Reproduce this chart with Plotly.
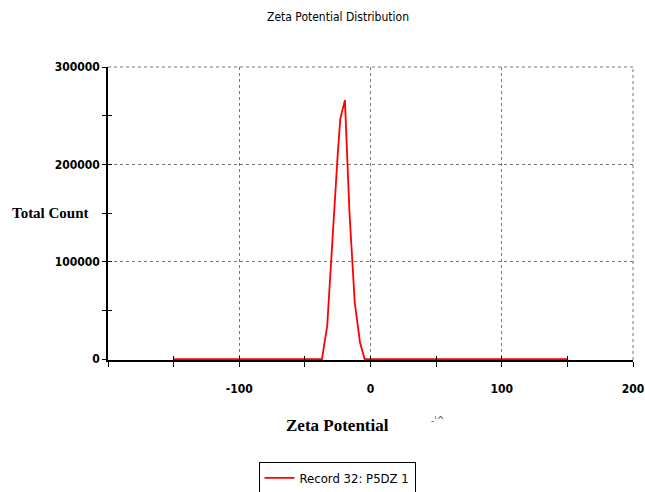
import plotly.graph_objects as go

zeta_mv = [-150, -37, -33, -29, -25, -23, -19.5, -16, -12, -8, -4.5, 150]
total_count = [0, 0, 34000, 125000, 210000, 247000, 266000, 150000, 58000, 17000, 0, 0]
x_ticks = [-100, 0, 100, 200]
x_labels = ["-100", "0", "100", "200"]
y_ticks = [0, 100000, 200000, 300000]
y_labels = ["0", "100000", "200000", "300000"]

narrow = "DejaVu Sans Condensed, Liberation Sans Narrow, Arial Narrow, sans-serif"
serif = "Liberation Serif, Times New Roman, serif"
grid = "#777777"
tickfont = dict(family=narrow, size=12, color="black", weight="bold")

fig = go.Figure()
fig.add_trace(go.Scatter(x=zeta_mv, y=total_count, mode="lines",
                         line=dict(color="#ff0000", width=1.8),
                         name="Record 32: P5DZ 1"))
# invisible trace on overlay axes for inward tick marks
fig.add_trace(go.Scatter(x=[-200, 200], y=[0, 0], xaxis="x2", yaxis="y2",
                         mode="lines", line=dict(width=0), hoverinfo="skip", showlegend=False))

y_range = [-1000, 300000]

fig.update_layout(
    width=645, height=492,
    margin=dict(l=108, r=12, t=67, b=132, autoexpand=False),
    paper_bgcolor="white", plot_bgcolor="white",
    title=dict(text="Zeta Potential Distribution", x=338 / 645, xanchor="center", y=1 - 17 / 492,
               yanchor="middle", xref="container", yref="container",
               font=dict(family=narrow, size=12, color="black")),
    xaxis=dict(range=[-200, 200], tickvals=x_ticks, ticktext=x_labels, showgrid=True, gridcolor=grid,
               griddash="dot", gridwidth=1, zeroline=False, showline=True, linecolor="black",
               linewidth=1.5, ticks="outside", ticklen=5, tickcolor="black", layer="below traces",
               automargin=False, ticklabelstandoff=12,
               minor=dict(dtick=50, tick0=0, ticks="outside", ticklen=5, tickcolor="black", showgrid=False),
               tickfont=tickfont),
    yaxis=dict(range=y_range, tickvals=y_ticks, ticktext=y_labels, showgrid=True, gridcolor=grid,
               griddash="dot", gridwidth=1, zeroline=False, showline=True, linecolor="black",
               linewidth=1.5, ticks="outside", ticklen=4, tickcolor="black", layer="below traces",
               automargin=False,
               minor=dict(dtick=50000, tick0=0, ticks="outside", ticklen=4, tickcolor="black", showgrid=False),
               tickfont=tickfont),
    xaxis2=dict(overlaying="x", matches="x", anchor="y2", showticklabels=False, showgrid=False,
                zeroline=False, ticks="inside", ticklen=4, tickcolor="black", tickvals=x_ticks,
                automargin=False,
                minor=dict(dtick=50, tick0=0, ticks="inside", ticklen=4, tickcolor="black")),
    yaxis2=dict(overlaying="y", matches="y", anchor="x2", showticklabels=False, showgrid=False,
                zeroline=False, ticks="inside", ticklen=4, tickcolor="black", tickvals=y_ticks,
                automargin=False,
                minor=dict(dtick=50000, tick0=0, ticks="inside", ticklen=4, tickcolor="black")),
    showlegend=True,
    legend=dict(x=337 / 645, y=(492 - 478) / 492, xref="container", yref="container",
                xanchor="center", yanchor="middle", orientation="h",
                bordercolor="black", borderwidth=1, bgcolor="white",
                font=dict(family=narrow, size=13, color="black")),
    shapes=[
        dict(type="line", xref="paper", yref="paper", x0=0, x1=1, y0=1, y1=1,
             line=dict(color=grid, width=1, dash="dot"), layer="below"),
        dict(type="line", xref="paper", yref="paper", x0=1, x1=1, y0=0, y1=1,
             line=dict(color=grid, width=1, dash="dot"), layer="below"),
    ],
    annotations=[
        dict(text="<b>Total Count</b>", x=(10 - 108) / 525, xref="paper", xanchor="left",
             y=(360 - 213) / 293, yref="paper", yanchor="middle",
             showarrow=False, font=dict(family=serif, size=15, color="black")),
        dict(text="<b>Zeta Potential</b>", x=(337 - 108) / 525, xref="paper", xanchor="center",
             y=(360 - 425) / 293, yref="paper",
             yanchor="middle", showarrow=False, font=dict(family=serif, size=17, color="black")),
        dict(text="-'^", x=(437 - 108) / 525, xref="paper", xanchor="center", y=(360 - 420) / 293,
             yref="paper", yanchor="middle", showarrow=False,
             font=dict(family=narrow, size=10, color="#555555")),
    ],
)
fig.write_html("out.html", config={"displayModeBar": False},
               post_script="document.body.style.margin='0';")
